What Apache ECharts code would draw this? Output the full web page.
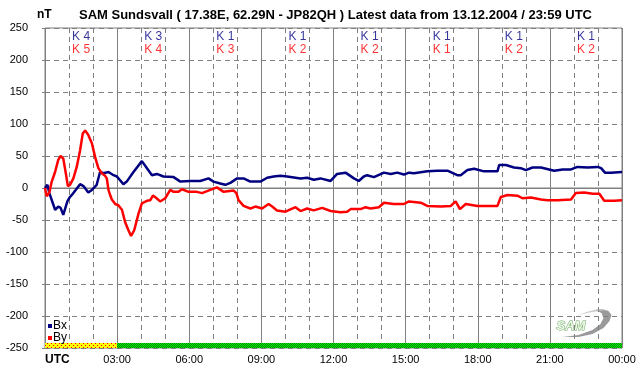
<!DOCTYPE html>
<html><head><meta charset="utf-8">
<script src="https://cdn.jsdelivr.net/npm/echarts@6/dist/echarts.min.js"></script>
<style>html,body{margin:0;padding:0;background:#fff}#c{width:642px;height:376px}</style>
</head><body><div id="c"></div>
<script>
const titleText = 'SAM Sundsvall ( 17.38E, 62.29N - JP82QH ) Latest data from 13.12.2004 / 23:59 UTC';
const unitLabel = 'nT';
const xTickLabels = ['UTC', '03:00', '06:00', '09:00', '12:00', '15:00', '18:00', '21:00', '00:00'];
const seriesNames = ['Bx', 'By'];

const bxHours = [0,0.10,0.18,0.42,0.55,0.65,0.76,0.83,0.93,1.04,1.18,1.46,1.60,1.80,1.95,2.15,2.29,2.43,2.64,2.85,2.99,3.05,3.26,3.40,3.68,4.03,4.24,4.45,4.65,4.93,5.35,5.63,6.04,6.46,6.80,7.01,7.29,7.50,7.71,7.99,8.26,8.54,8.96,9.24,9.51,9.79,10.07,10.63,10.90,11.18,11.46,11.88,12.15,12.50,12.85,13.05,13.26,13.40,13.68,14.10,14.38,14.65,14.93,15.14,15.35,15.90,16.32,16.74,17.15,17.29,17.57,17.85,18.26,18.82,18.89,19.17,19.51,19.79,20.00,20.28,20.63,21.18,21.53,21.88,22.15,22.57,22.99,23.13,23.29,23.54,24.0];
const bxValues = [0,5,-8,-34,-29,-31,-42,-39,-21,-14,-8,6,3,-7,-3,5,25,23,25,20,18,15,6,10,25,42,31,20,22,18,17,10,11,11,15,10,7,5,8,15,15,10,10,16,18,19,18,15,16,13,15,11,22,24,15,11,18,20,17,24,22,24,21,24,23,26,27,27,20,20,28,30,26,26,36,36,32,31,28,32,32,27,29,29,33,32,33,31,24,24,25];

const byHours = [0,0.07,0.18,0.28,0.42,0.55,0.65,0.76,0.88,0.95,1.04,1.18,1.32,1.46,1.57,1.67,1.80,1.95,2.08,2.22,2.36,2.50,2.57,2.64,2.71,2.78,2.92,3.05,3.20,3.33,3.47,3.58,3.71,3.89,4.03,4.24,4.38,4.49,4.58,4.79,5.00,5.21,5.35,5.54,5.70,5.97,6.32,6.53,6.74,7.15,7.43,7.85,7.96,8.05,8.26,8.54,8.75,9.03,9.30,9.45,9.65,10.00,10.42,10.63,10.90,11.18,11.53,11.88,12.29,12.57,12.71,13.13,13.33,13.54,13.89,14.10,14.51,14.93,15.14,15.63,15.90,16.46,16.88,17.08,17.26,17.50,17.99,18.40,18.82,18.96,19.24,19.65,19.86,20.21,20.63,20.90,21.32,21.88,22.08,22.43,22.78,23.06,23.26,23.68,24.0];
const byValues = [0,-13,-7,10,25,44,50,46,20,3,5,15,33,59,85,90,83,70,49,31,23,19,15,-3,-11,-18,-25,-27,-34,-53,-66,-75,-66,-40,-24,-20,-19,-12,-14,-21,-16,-3,-6,-6,-2,-6,-6,-8,-5,1,-6,-4,-8,-19,-28,-32,-29,-32,-25,-29,-35,-37,-30,-36,-32,-35,-31,-36,-38,-37,-33,-33,-30,-32,-30,-23,-25,-25,-21,-23,-28,-29,-28,-21,-33,-25,-28,-28,-28,-14,-11,-12,-16,-15,-18,-19,-19,-18,-8,-7,-9,-9,-20,-20,-19];

const kBlockCenters = [1.5, 4.5, 7.5, 10.5, 13.5, 16.5, 19.5, 22.5];
const kBx = [4, 3, 1, 1, 1, 1, 1, 1];
const kBy = [5, 4, 3, 2, 2, 1, 2, 2];

const statusStart = [0, 3];
const statusEnd = [3, 24];
const statusKind = ['partial', 'ok'];

function makePattern(kind) {
  const c = document.createElement('canvas');
  c.width = 4; c.height = 4;
  const g = c.getContext('2d');
  if (kind === 'ok') {
    for (let y = 0; y < 4; y++) for (let x = 0; x < 4; x++) {
      g.fillStyle = ((x + y) % 2 === 0) ? '#00ff00' : '#008000';
      g.fillRect(x, y, 1, 1);
    }
  } else {
    g.fillStyle = '#ffff00'; g.fillRect(0, 0, 4, 4);
    g.fillStyle = '#ff0000';
    g.fillRect(1, 1, 1, 1); g.fillRect(3, 3, 1, 1);
  }
  return { image: c, repeat: 'repeat' };
}

const GRAY = '#808080';
const FONT = 'Liberation Sans';
const zip = (a, b) => a.map((v, i) => [v, b[i]]);

const chart = echarts.init(document.getElementById('c'), null, { renderer: 'canvas' });
chart.setOption({
  animation: false,
  backgroundColor: '#ffffff',
  textStyle: { fontFamily: FONT },
  title: {
    text: titleText, left: 74, top: 4,
    textStyle: { fontSize: 13, fontWeight: 'bold', color: '#000', fontFamily: FONT }
  },
  legend: {
    data: seriesNames.map(n => ({ name: n, icon: 'rect' })),
    orient: 'vertical', left: 43, top: 315, itemWidth: 4, itemHeight: 4, itemGap: 0,
    textStyle: { fontSize: 12, color: '#000', fontFamily: FONT, padding: [0, 0, 0, -4] },
    selectedMode: false
  },
  grid: { left: 45, right: 20, top: 28, bottom: 28, show: true, borderColor: GRAY, borderWidth: 1 },
  xAxis: {
    type: 'value', min: 0, max: 24, interval: 3,
    axisLine: { show: true, lineStyle: { color: GRAY } },
    axisTick: { show: true, length: 5, lineStyle: { color: GRAY } },
    minorTick: { show: true, splitNumber: 3, length: 3, lineStyle: { color: GRAY } },
    splitLine: { show: true, lineStyle: { color: GRAY, type: 'solid', width: 1 } },
    minorSplitLine: { show: true, lineStyle: { color: GRAY, type: [5, 4], width: 1 } },
    axisLabel: {
      fontSize: 11, color: '#000', margin: 6, fontFamily: FONT,
      formatter: v => (v === 0 ? '' : xTickLabels[Math.round(v / 3)])
    }
  },
  yAxis: {
    type: 'value', min: -250, max: 250, interval: 50,
    axisLine: { show: false },
    axisTick: { show: true, length: 3, lineStyle: { color: GRAY } },
    splitLine: { show: true, lineStyle: { color: GRAY, type: [5, 4], width: 1 } },
    axisLabel: { fontSize: 11, color: '#000', margin: 17, fontFamily: FONT }
  },
  graphic: [
    { type: 'text', left: 37, top: 9, style: { text: unitLabel, font: 'bold 12px "Liberation Sans"', fill: '#000' } },
    { type: 'text', left: 45, top: 354, style: { text: xTickLabels[0], font: 'bold 12px "Liberation Sans"', fill: '#000' } },
    {
      type: 'group', left: 556, top: 309, children: [
        { type: 'polygon', shape: { points: [[6,28],[22,28],[36,25],[47,19],[53,12],[55,6],[52,2],[45,0],[38,1],[45,4],[47,9],[44,15],[36,21],[22,26]] },
          style: { fill: '#9a9a9a' } },
        { type: 'polygon', shape: { points: [[20,7],[30,3],[42,0],[50,1],[42,2],[30,4]] }, style: { fill: '#c8c8c8' } },
        { type: 'text', x: 0, y: 11, style: { text: 'SAM', font: 'italic bold 13px "Liberation Sans"', fill: '#eef8e8', stroke: '#6aa860', lineWidth: 1 } }
      ]
    }
  ],
  series: [
    {
      name: 'zero', type: 'line', data: [[0, 0], [24, 0]], symbol: 'none', silent: true, z: 1,
      lineStyle: { color: GRAY, width: 1 },
      markArea: {
        silent: true,
        data: statusStart.map((s, i) => [
          { xAxis: s, yAxis: -250, itemStyle: { color: makePattern(statusKind[i]) } },
          { xAxis: statusEnd[i], yAxis: -242.2 }
        ])
      }
    },
    {
      name: seriesNames[0], type: 'line', data: zip(bxHours, bxValues), symbol: 'none', z: 3,
      color: '#000080', lineStyle: { color: '#000080', width: 2.5 }
    },
    {
      name: seriesNames[1], type: 'line', data: zip(byHours, byValues), symbol: 'none', z: 3,
      color: '#ff0000', lineStyle: { color: '#ff0000', width: 2.5 }
    },
    {
      name: 'KBx', type: 'scatter', symbolSize: 0, silent: true, z: 4,
      data: kBlockCenters.map((t, i) => [t, 236, kBx[i]]),
      label: { show: true, position: 'inside', formatter: p => 'K ' + p.value[2], color: '#000080', fontSize: 12, fontFamily: FONT }
    },
    {
      name: 'KBy', type: 'scatter', symbolSize: 0, silent: true, z: 4,
      data: kBlockCenters.map((t, i) => [t, 216, kBy[i]]),
      label: { show: true, position: 'inside', formatter: p => 'K ' + p.value[2], color: '#ff0000', fontSize: 12, fontFamily: FONT }
    }
  ]
});
</script></body></html>
